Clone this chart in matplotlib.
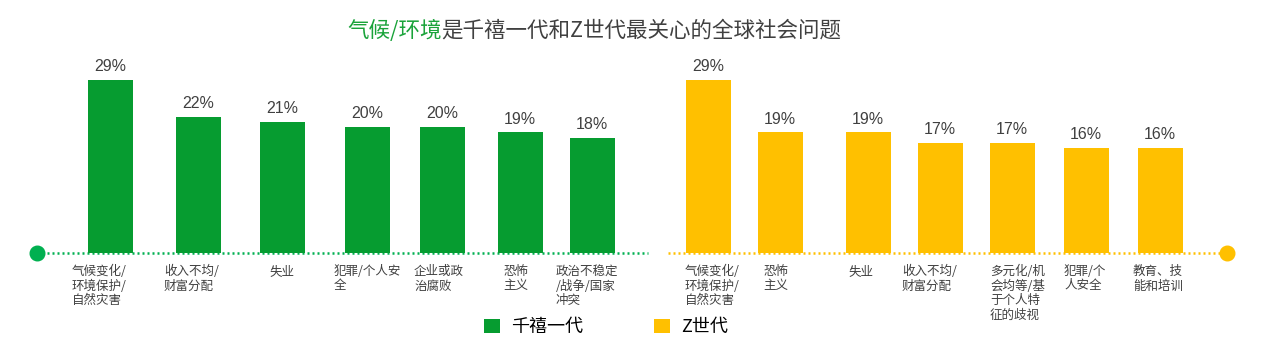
import numpy as np
import matplotlib.pyplot as plt

plt.rcParams['font.family'] = ['Noto Sans CJK SC', 'DejaVu Sans']

# 数据
mill_labels = ['气候变化/\n环境保护/\n自然灾害', '收入不均/\n财富分配', '失业', '犯罪/个人安\n全',
               '企业或政\n治腐败', '恐怖\n主义', '政治不稳定\n/战争/国家\n冲突']
mill_values = [29, 22, 21, 20, 20, 19, 18]
genz_labels = ['气候变化/\n环境保护/\n自然灾害', '恐怖\n主义', '失业', '收入不均/\n财富分配',
               '多元化/机\n会均等/基\n于个人特\n征的歧视', '犯罪/个\n人安全', '教育、技\n能和培训']
genz_values = [29, 19, 19, 17, 17, 16, 16]

# 布局 (像素坐标)
mill_x = [110, 198, 282, 367, 442, 520, 592]
mill_lx = [72, 164, 269, 334, 414, 503, 556]
genz_x = [708, 780, 868, 940, 1012, 1086, 1160]
genz_lx = [685, 763, 848, 902, 990, 1064, 1133]

GREEN = '#069C30'
GREEN2 = '#00B050'
YELLOW = '#FFC000'
GREY = '#404040'

W, H = 1266, 356
fig = plt.figure(figsize=(W / 100, H / 100), dpi=100)
ax = fig.add_axes([0, 0, 1, 1])
ax.axis('off')

base = -4.0
px = 5.25  # 每个百分点的像素
ax.set_xlim(0, W)
ax.set_ylim(base - (H - 253) / px, base + 253 / px)

b1 = ax.bar(mill_x, np.array(mill_values) - base, bottom=base, width=45, color=GREEN, label='千禧一代', zorder=2)
b2 = ax.bar(genz_x, np.array(genz_values) - base, bottom=base, width=45, color=YELLOW, label='Z世代', zorder=2)

for xs, vs in [(mill_x, mill_values), (genz_x, genz_values)]:
    for x, v in zip(xs, vs):
        ax.annotate(f'{v}%', (x, v), xytext=(0, 4), textcoords='offset points',
                    ha='center', va='bottom', fontsize=11.5, color=GREY,
                    family=['Liberation Sans', 'DejaVu Sans'])

# 虚线基线
ax.plot([37, 648], [base, base], color=GREEN2, lw=1.8, linestyle=(0, (0.8, 1.2)), zorder=1)
ax.plot([668, 1227], [base, base], color=YELLOW, lw=1.8, linestyle=(0, (0.8, 1.2)), zorder=1)
ax.plot([37], [base], 'o', color=GREEN2, ms=10.5, zorder=3)
ax.plot([1227], [base], 'o', color=YELLOW, ms=10.5, zorder=3)

# 类别标签
tr = ax.get_xaxis_transform()
for xs, labs in [(mill_lx, mill_labels), (genz_lx, genz_labels)]:
    for x, lab in zip(xs, labs):
        ax.text(x, 1 - 265 / H, lab, transform=tr, ha='left', va='top',
                fontsize=9, color=GREY, linespacing=1.15)

# 标题
t1 = fig.text(347 / W, 1 - 31 / H, '气候/环境', fontsize=15.5, color='#1AA33A', ha='left', va='center')
ax.annotate('是千禧一代和Z世代最关心的全球社会问题', xy=(1, 0.5), xycoords=t1,
            ha='left', va='center', fontsize=15.5, color=GREY)

# 图例
fig.legend(handles=[b1, b2], loc='center', bbox_to_anchor=(606 / W, 1 - 327 / H), ncol=2,
           frameon=False, fontsize=13, handlelength=0.9, handleheight=0.85,
           handletextpad=0.62, columnspacing=3.9)

fig.savefig('out.png', dpi=100)
